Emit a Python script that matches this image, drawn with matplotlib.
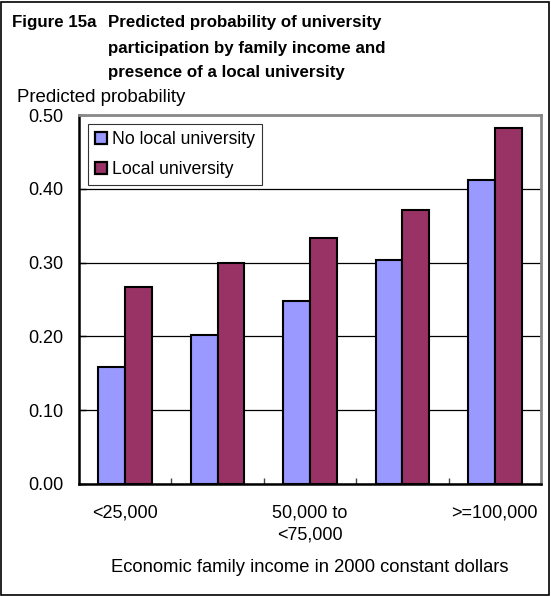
import matplotlib
matplotlib.use("Agg")
import matplotlib.pyplot as plt
import numpy as np
from matplotlib.patches import Rectangle, Patch

plt.rcParams['font.family'] = ['Liberation Sans', 'DejaVu Sans']

categories = ['<25,000', '25,000 to\n<50,000', '50,000 to\n<75,000',
              '75,000 to\n<100,000', '>=100,000']
shown_labels = ['<25,000', '', '50,000 to\n<75,000', '', '>=100,000']
no_local = [0.159, 0.202, 0.248, 0.304, 0.412]
local = [0.267, 0.300, 0.334, 0.371, 0.482]
series_names = ['No local university', 'Local university']
yticks = [0.0, 0.1, 0.2, 0.3, 0.4, 0.5]
title_lines = ['Predicted probability of university',
               'participation by family income and',
               'presence of a local university']

W, H = 551, 596
fig = plt.figure(figsize=(W / 100, H / 100), dpi=100)
ax = fig.add_axes([79 / W, 1 - 484 / H, (541 - 79) / W, (484 - 115) / H])

FS = 13
x = np.arange(len(categories))
bw = 0.29
c1, c2 = '#9999FF', '#993366'
ax.bar(x - bw / 2, no_local, bw, color=c1, edgecolor='black', linewidth=1.5, zorder=3,
       label=series_names[0])
ax.bar(x + bw / 2, local, bw, color=c2, edgecolor='black', linewidth=1.5, zorder=3,
       label=series_names[1])

ax.set_xlim(-0.5, len(categories) - 0.5)
ax.set_ylim(0, 0.5)
ax.set_yticks(yticks)
ax.set_yticklabels([f'{v:.2f}' for v in yticks], fontsize=FS)
ax.set_xticks(x)
ax.set_xticklabels(shown_labels, fontsize=FS, linespacing=1.35)
ax.set_xticks(np.arange(0.5, len(categories) - 0.5), minor=True)
ax.tick_params(axis='x', which='major', length=0, pad=15)
ax.tick_params(axis='x', which='minor', direction='in', length=4, width=1, color='#444444')
ax.tick_params(axis='y', which='major', direction='in', length=5, width=1, pad=11)
ax.yaxis.grid(True, color='black', linewidth=0.9, zorder=0)
ax.set_axisbelow(True)

for s in ['top', 'right']:
    ax.spines[s].set_color('#888888')
    ax.spines[s].set_linewidth(2)
for s in ['left', 'bottom']:
    ax.spines[s].set_color('black')
    ax.spines[s].set_linewidth(1.8)

handles = [Patch(facecolor=c1, edgecolor='black', linewidth=1.6),
           Patch(facecolor=c2, edgecolor='black', linewidth=1.6)]
leg = ax.legend(handles, series_names, loc='upper left', bbox_to_anchor=(9 / 462, 1 - 9 / 369),
                fontsize=12.7, frameon=True, fancybox=False, edgecolor='black',
                handlelength=0.7, handleheight=0.7, handletextpad=0.25,
                borderpad=0.4, labelspacing=0.75, borderaxespad=0)
leg.get_frame().set_linewidth(0.8)
leg.set_zorder(5)

fig.text(12 / W, 1 - 22 / H, 'Figure 15a', fontsize=12.2, fontweight='bold', va='center', ha='left')
for i, line in enumerate(title_lines):
    fig.text(108 / W, 1 - (23 + 25 * i) / H, line, fontsize=12.2, fontweight='bold',
             va='center', ha='left')
fig.text(17 / W, 1 - 97 / H, 'Predicted probability', fontsize=13.4, va='center', ha='left')
fig.text(310 / W, 1 - 567 / H, 'Economic family income in 2000 constant dollars',
         fontsize=13.2, va='center', ha='center')

fig.patches.append(Rectangle((1 / W, 1 / H), (W - 3) / W, (H - 3) / H, transform=fig.transFigure,
                             fill=False, edgecolor='black', linewidth=1.2))

fig.savefig('out.png', dpi=100)
